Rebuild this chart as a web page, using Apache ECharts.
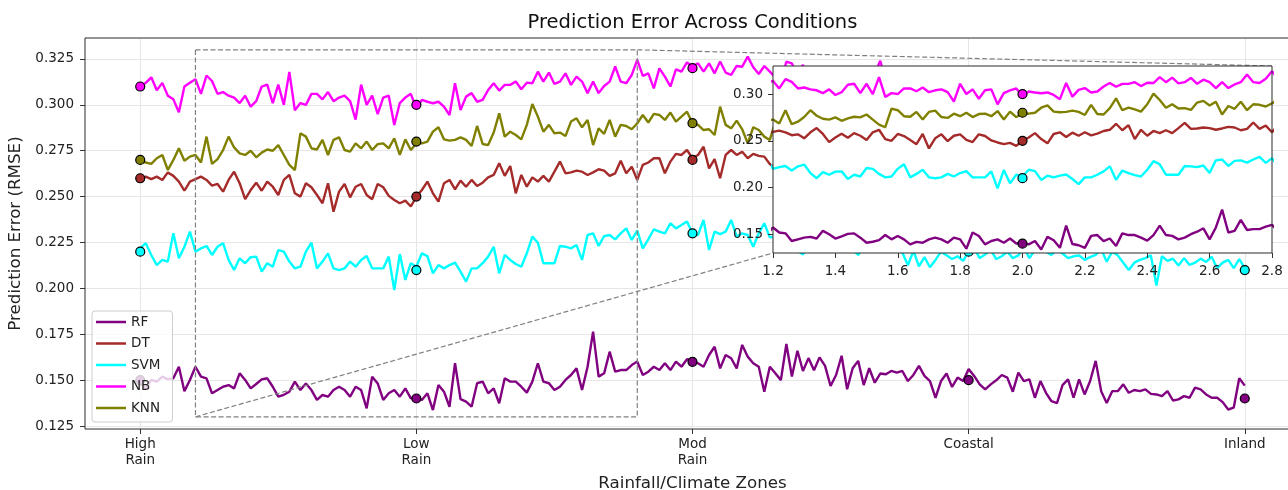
<!DOCTYPE html>
<html><head><meta charset="utf-8">
<script src="https://cdn.jsdelivr.net/npm/echarts@6/dist/echarts.min.js"></script>
<style>html,body{margin:0;padding:0;background:#fff}#c{width:1288px;height:490px}</style>
</head><body><div id="c"></div>
<script>
// ---------- data ----------
const categories = ['High\nRain', 'Low\nRain', 'Mod\nRain', 'Coastal', 'Inland'];
const categoryPositions = [0, 1, 2, 3, 4];
const yTickValues = [0.125, 0.15, 0.175, 0.2, 0.225, 0.25, 0.275, 0.3, 0.325];
const yTickLabels = ['0.125', '0.150', '0.175', '0.200', '0.225', '0.250', '0.275', '0.300', '0.325'];
const insetXTickValues = [0.2, 0.4, 0.6, 0.8, 1.0, 1.2, 1.4, 1.6, 1.8];
const insetXTickLabels = ['1.2', '1.4', '1.6', '1.8', '2.0', '2.2', '2.4', '2.6', '2.8'];
const insetYTickValues = [0.15, 0.2, 0.25, 0.3];
const insetYTickLabels = ['0.15', '0.20', '0.25', '0.30'];
const samplesPerUnit = 50;

const rf = [
0.1480,0.1455,0.1501,0.1492,0.1519,0.1504,0.1510,0.1573,0.1440,0.1501,
0.1573,0.1519,0.1510,0.1428,0.1446,0.1464,0.1473,0.1455,0.1537,0.1501,
0.1455,0.1479,0.1504,0.1510,0.1464,0.1410,0.1420,0.1437,0.1492,0.1446,
0.1482,0.1446,0.1392,0.1419,0.1410,0.1446,0.1464,0.1446,0.1410,0.1464,
0.1446,0.1346,0.1519,0.1482,0.1392,0.1428,0.1446,0.1410,0.1455,0.1401,
0.1410,0.1392,0.1428,0.1337,0.1473,0.1437,0.1355,0.1592,0.1396,0.1383,
0.1355,0.1483,0.1492,0.1428,0.1455,0.1374,0.1510,0.1492,0.1492,0.1464,
0.1432,0.1492,0.1592,0.1492,0.1483,0.1446,0.1464,0.1501,0.1528,0.1564,
0.1446,0.1573,0.1764,0.1519,0.1537,0.1655,0.1546,0.1555,0.1555,0.1582,
0.1601,0.1528,0.1546,0.1573,0.1555,0.1592,0.1555,0.1601,0.1573,0.1614,
0.1605,0.1592,0.1573,0.1637,0.1682,0.1564,0.1637,0.1619,0.1564,0.1692,
0.1628,0.1592,0.1573,0.1437,0.1573,0.1537,0.1500,0.1697,0.1520,0.1660,
0.1550,0.1620,0.1554,0.1624,0.1578,0.1468,0.1528,0.1633,0.1450,0.1565,
0.1605,0.1473,0.1565,0.1486,0.1536,0.1532,0.1550,0.1541,0.1550,0.1495,
0.1528,0.1578,0.1523,0.1495,0.1404,0.1495,0.1536,0.1463,0.1514,0.1495,
0.1560,0.1523,0.1477,0.1450,0.1477,0.1499,0.1528,0.1514,0.1437,0.1541,
0.1495,0.1504,0.1404,0.1495,0.1431,0.1385,0.1375,0.1473,0.1504,0.1404,
0.1504,0.1422,0.1495,0.1605,0.1440,0.1376,0.1440,0.1440,0.1477,0.1431,
0.1446,0.1440,0.1450,0.1425,0.1422,0.1413,0.1440,0.1389,0.1395,0.1413,
0.1404,0.1459,0.1450,0.1422,0.1404,0.1404,0.1380,0.1340,0.1350,0.1510,
0.1470];

const dt = [
0.2591,0.2609,0.2595,0.2609,0.2591,0.2632,0.2613,0.2582,0.2532,0.2582,
0.2595,0.2609,0.2591,0.2560,0.2569,0.2527,0.2591,0.2636,0.2573,0.2486,
0.2536,0.2576,0.2532,0.2582,0.2554,0.2509,0.2591,0.2618,0.2518,0.2500,
0.2573,0.2551,0.2509,0.2464,0.2573,0.2418,0.2527,0.2569,0.2496,0.2554,
0.2569,0.2509,0.2486,0.2569,0.2551,0.2504,0.2482,0.2464,0.2478,0.2446,
0.2500,0.2536,0.2582,0.2518,0.2473,0.2573,0.2591,0.2540,0.2587,0.2554,
0.2591,0.2558,0.2576,0.2605,0.2618,0.2682,0.2613,0.2667,0.2518,0.2618,
0.2554,0.2605,0.2582,0.2613,0.2582,0.2636,0.2691,0.2627,0.2632,0.2642,
0.2636,0.2618,0.2632,0.2649,0.2642,0.2613,0.2627,0.2696,0.2627,0.2663,
0.2591,0.2673,0.2686,0.2709,0.2709,0.2627,0.2691,0.2733,0.2727,0.2754,
0.2709,0.2727,0.2772,0.2654,0.2704,0.2600,0.2727,0.2754,0.2727,0.2745,
0.2709,0.2733,0.2722,0.2718,0.2678,0.2654,0.268,0.272,0.265,0.270,
0.274,0.266,0.271,0.268,0.273,0.264,0.269,0.275,0.267,0.271,
0.265,0.270,0.273,0.266,0.269,0.272,0.264,0.270,0.267,0.274,
0.268,0.265,0.271,0.269,0.273,0.266,0.270,0.263,0.268,0.272,
0.266,0.270,0.267,0.273,0.264,0.269,0.271,0.265,0.268,0.272,
0.267,0.263,0.270,0.268,0.274,0.266,0.269,0.265,0.271,0.267,
0.270,0.264,0.268,0.272,0.266,0.269,0.263,0.271,0.267,0.270,
0.265,0.269,0.273,0.267,0.270,0.264,0.268,0.271,0.266,0.269,
0.272,0.265,0.268,0.270,0.266,0.271,0.267,0.264,0.269,0.272,
0.268];

const svm = [
0.2218,0.2246,0.2182,0.2127,0.2155,0.2146,0.2300,0.2164,0.2227,0.2309,
0.2200,0.2218,0.2231,0.2182,0.2227,0.2246,0.2155,0.2100,0.2164,0.2137,
0.2170,0.2173,0.2091,0.2137,0.2118,0.2209,0.2200,0.2146,0.2109,0.2118,
0.2200,0.2249,0.2109,0.2146,0.2191,0.2109,0.2100,0.2109,0.2146,0.2118,
0.2155,0.2176,0.2109,0.2109,0.2109,0.2173,0.1991,0.2187,0.2046,0.2137,
0.2118,0.2191,0.2176,0.2082,0.2127,0.2109,0.2127,0.2140,0.2091,0.2037,
0.2109,0.2109,0.2137,0.2173,0.2227,0.2082,0.2182,0.2155,0.2133,0.2118,
0.2191,0.2282,0.2249,0.2137,0.2137,0.2137,0.2231,0.2227,0.2218,0.2236,
0.2155,0.2291,0.2300,0.2231,0.2285,0.2291,0.2267,0.2300,0.2327,0.2264,
0.2315,0.2218,0.2267,0.2322,0.2309,0.2300,0.2355,0.2327,0.2345,0.2364,
0.2300,0.2291,0.2373,0.2209,0.2309,0.2296,0.2309,0.2373,0.2282,0.2300,
0.2291,0.2227,0.2300,0.2355,0.2278,0.2282,0.2250,0.2230,0.2260,0.2205,
0.2185,0.2230,0.2215,0.2240,0.2205,0.2250,0.2220,0.2235,0.2200,0.2210,
0.2182,0.2225,0.2205,0.2240,0.2215,0.2230,0.2200,0.2215,0.2195,0.2126,
0.2205,0.2120,0.2170,0.2115,0.2155,0.2200,0.2180,0.2160,0.2175,0.2150,
0.2200,0.2220,0.2165,0.2185,0.2210,0.2160,0.2175,0.2200,0.2165,0.2180,
0.2225,0.2165,0.2210,0.2230,0.2200,0.2182,0.2210,0.2190,0.2165,0.2175,
0.2180,0.2155,0.2170,0.2182,0.2215,0.2145,0.2200,0.2180,0.2140,0.2100,
0.2140,0.2155,0.2165,0.2180,0.2016,0.2175,0.2150,0.2162,0.2125,0.2165,
0.2128,0.2140,0.2162,0.2144,0.2172,0.2110,0.2140,0.2155,0.2110,0.2160,
0.2110];

const nb = [
0.310,0.312,0.315,0.308,0.312,0.305,0.303,0.296,0.310,0.312,
0.314,0.306,0.316,0.313,0.306,0.307,0.305,0.304,0.301,0.305,
0.299,0.302,0.310,0.311,0.301,0.311,0.300,0.318,0.297,0.301,
0.300,0.306,0.306,0.303,0.307,0.302,0.304,0.305,0.302,0.292,
0.311,0.300,0.305,0.295,0.304,0.305,0.289,0.301,0.304,0.306,
0.298,0.3027,0.3017,0.3009,0.3017,0.2990,0.2945,0.3118,0.2972,0.3045,
0.3064,0.3017,0.3027,0.3081,0.3118,0.3078,0.3109,0.3109,0.3127,0.3085,
0.3121,0.3118,0.3181,0.3127,0.3176,0.3114,0.3127,0.3172,0.3109,0.3154,
0.3127,0.3064,0.3127,0.3064,0.3103,0.3127,0.3209,0.3127,0.3118,0.3163,
0.3245,0.3158,0.3172,0.3090,0.3199,0.3154,0.3100,0.3193,0.3181,0.3231,
0.3209,0.3226,0.3181,0.3226,0.3172,0.3236,0.3176,0.3163,0.3212,0.3208,
0.3263,0.3205,0.3168,0.3212,0.3181,0.315,0.312,0.3236,0.3226,0.316,
0.3218,0.314,0.3205,0.315,0.312,0.317,0.309,0.315,0.313,0.318,
0.310,0.316,0.312,0.317,0.324,0.313,0.316,0.311,0.318,0.314,
0.309,0.316,0.313,0.319,0.312,0.315,0.310,0.317,0.314,0.311,
0.315,0.318,0.309,0.313,0.316,0.311,0.317,0.312,0.308,0.315,
0.313,0.318,0.310,0.314,0.311,0.316,0.309,0.313,0.317,0.310,
0.312,0.308,0.315,0.311,0.314,0.309,0.316,0.312,0.307,0.313,
0.310,0.315,0.311,0.308,0.314,0.310,0.306,0.312,0.309,0.314,
0.310,0.307,0.313,0.309,0.311,0.306,0.312,0.308,0.310,0.307,
0.309];

const knn = [
0.2695,0.2686,0.2678,0.2709,0.2727,0.2645,0.2700,0.2763,0.2696,0.2718,
0.2727,0.2686,0.2827,0.2678,0.2704,0.2754,0.2827,0.2768,0.2736,0.2727,
0.2750,0.2714,0.2740,0.2757,0.2750,0.2781,0.2727,0.2673,0.2645,0.2845,
0.2827,0.2763,0.2757,0.2809,0.2727,0.2809,0.2823,0.2754,0.2745,0.2790,
0.2763,0.2800,0.2754,0.2786,0.2790,0.2763,0.2818,0.2727,0.2812,0.2754,
0.2790,0.2790,0.2800,0.2854,0.2878,0.2812,0.2805,0.2809,0.2823,0.2809,
0.2776,0.2885,0.2787,0.2781,0.2849,0.2954,0.2827,0.2854,0.2836,0.2812,
0.2891,0.3005,0.2936,0.2854,0.2891,0.2845,0.2849,0.2830,0.2909,0.2927,
0.2878,0.2918,0.2781,0.2872,0.2842,0.2918,0.2827,0.2891,0.2885,0.2867,
0.2900,0.2945,0.2904,0.2951,0.2945,0.2918,0.2958,0.2909,0.2936,0.2963,
0.2900,0.2891,0.2863,0.2867,0.2836,0.2990,0.2891,0.2872,0.2914,0.2867,
0.2790,0.2878,0.2863,0.2827,0.2809,0.2909,0.287,0.292,0.284,0.289,
0.295,0.283,0.288,0.291,0.285,0.293,0.282,0.289,0.286,0.294,
0.284,0.290,0.287,0.281,0.289,0.292,0.285,0.288,0.283,0.291,
0.286,0.293,0.284,0.287,0.290,0.282,0.288,0.285,0.291,0.286,
0.283,0.288,0.292,0.284,0.287,0.281,0.289,0.286,0.290,0.283,
0.288,0.285,0.291,0.282,0.287,0.289,0.284,0.288,0.280,0.286,
0.290,0.283,0.287,0.285,0.289,0.282,0.286,0.291,0.284,0.288,
0.281,0.287,0.285,0.289,0.283,0.286,0.290,0.282,0.287,0.284,
0.288,0.283,0.286,0.289,0.281,0.287,0.285,0.288,0.283,0.290,
0.286];

const rfMarkers  = [0.15, 0.14, 0.16, 0.15, 0.14];
const dtMarkers  = [0.26, 0.25, 0.27, 0.26, 0.27];
const svmMarkers = [0.22, 0.21, 0.23, 0.22, 0.21];
const nbMarkers  = [0.31, 0.30, 0.32, 0.31, 0.31];
const knnMarkers = [0.27, 0.28, 0.29, 0.28, 0.29];

const seriesNames = ['RF', 'DT', 'SVM', 'NB', 'KNN'];
const seriesColors = ['#800080', '#a52a2a', '#00ffff', '#ff00ff', '#808000'];
const seriesValues = [rf, dt, svm, nb, knn];
const markerValues = [rfMarkers, dtMarkers, svmMarkers, nbMarkers, knnMarkers];

// ---------- chart ----------
const FONT = 'DejaVu Sans';
const TXT = '#222';
const mainX = {min: -0.2, max: 4.2};
const mainY = {min: 0.12337, max: 0.33644};
const zoomBox = {x0: 0.2, x1: 1.8, y0: 0.13, y1: 0.33};
const LW = 2.4;

function labelFor(vals, labels) {
  return function (v) {
    const i = vals.findIndex(t => Math.abs(t - v) < 1e-6);
    return i >= 0 ? labels[i] : '';
  };
}

const series = [];
[0, 1].forEach(g => {
  seriesNames.forEach((name, s) => {
    const lineData = seriesValues[s].map((v, i) => [i / samplesPerUnit, v]);
    const mk = categoryPositions.map((x, j) => [x, markerValues[s][j]]);
    const z = g === 0 ? 2 : 5;
    series.push({
      type: 'line', name, xAxisIndex: g, yAxisIndex: g, data: lineData,
      symbol: 'none', showSymbol: false, z, clip: true,
      lineStyle: {color: seriesColors[s], width: LW}, itemStyle: {color: seriesColors[s]}
    });
    series.push({
      type: 'scatter', name: name + (g === 0 ? ' pts' : ' ipts'), xAxisIndex: g, yAxisIndex: g,
      data: mk, z, clip: true, symbolSize: 9,
      itemStyle: {color: seriesColors[s], borderColor: '#000', borderWidth: 1.2, opacity: 1}
    });
  });
});

const option = {
  animation: false,
  backgroundColor: '#fff',
  textStyle: {fontFamily: FONT},
  grid: [
    {left: 85, top: 38, width: 1215, height: 391, containLabel: false, outerBoundsMode: 'none'},
    {left: 773, top: 66, width: 499, height: 187, containLabel: false, outerBoundsMode: 'none'}
  ],
  xAxis: [
    {
      type: 'value', gridIndex: 0, min: mainX.min, max: mainX.max,
      name: 'Rainfall/Climate Zones', nameLocation: 'middle', nameGap: 46,
      nameTextStyle: {fontSize: 16.7, color: TXT, fontFamily: FONT},
      axisLine: {show: false, onZero: false},
      axisTick: {show: true, customValues: categoryPositions, length: 5, lineStyle: {color: '#333'}},
      axisLabel: {customValues: categoryPositions, formatter: labelFor(categoryPositions, categories),
        fontSize: 13.5, lineHeight: 16, color: TXT, margin: 7, fontFamily: FONT},
      splitLine: {show: true, lineStyle: {color: '#e6e6e6', width: 1}}
    },
    {
      type: 'value', gridIndex: 1, min: zoomBox.x0, max: zoomBox.x1, z: 6,
      axisLine: {show: false, onZero: false},
      axisTick: {show: true, customValues: insetXTickValues, length: 5, lineStyle: {color: '#333'}},
      axisLabel: {customValues: insetXTickValues, formatter: labelFor(insetXTickValues, insetXTickLabels),
        fontSize: 13.5, lineHeight: 16, color: TXT, margin: 10, fontFamily: FONT},
      splitLine: {show: false}
    }
  ],
  yAxis: [
    {
      type: 'value', gridIndex: 0, min: mainY.min, max: mainY.max,
      name: 'Prediction Error (RMSE)', nameLocation: 'middle', nameGap: 56,
      nameTextStyle: {fontSize: 16.7, color: TXT, fontFamily: FONT},
      axisLine: {show: false, onZero: false},
      axisTick: {show: true, customValues: yTickValues, length: 5, lineStyle: {color: '#333'}},
      axisLabel: {customValues: yTickValues, formatter: labelFor(yTickValues, yTickLabels),
        fontSize: 13.5, color: TXT, margin: 11, fontFamily: FONT},
      splitLine: {show: true, lineStyle: {color: '#e6e6e6', width: 1}}
    },
    {
      type: 'value', gridIndex: 1, min: zoomBox.y0, max: zoomBox.y1, z: 6,
      axisLine: {show: false, onZero: false},
      axisTick: {show: true, customValues: insetYTickValues, length: 5, lineStyle: {color: '#333'}},
      axisLabel: {customValues: insetYTickValues, formatter: labelFor(insetYTickValues, insetYTickLabels),
        fontSize: 13.5, color: TXT, margin: 10, fontFamily: FONT},
      splitLine: {show: false}
    }
  ],
  legend: {
    data: seriesNames, orient: 'vertical', left: 92, top: 311, z: 10,
    icon: 'rect', itemWidth: 30, itemHeight: 2.5, itemGap: 7.5, itemTextGap: 12,
    padding: [4, 12, 7, 4],
    backgroundColor: 'rgba(255,255,255,0.8)', borderColor: '#cccccc', borderWidth: 1, borderRadius: 3,
    textStyle: {fontSize: 13.5, color: TXT, fontFamily: FONT, lineHeight: 14}
  },
  series
};

const chart = echarts.init(document.getElementById('c'), null, {renderer: 'canvas'});
chart.setOption(option);

const pMain = (x, y) => chart.convertToPixel({xAxisIndex: 0, yAxisIndex: 0}, [x, y]);
const pIn = (x, y) => chart.convertToPixel({xAxisIndex: 1, yAxisIndex: 1}, [x, y]);

const mTL = pMain(mainX.min, mainY.max), mBR = pMain(mainX.max, mainY.min);
const iTL = pIn(zoomBox.x0, zoomBox.y1), iBR = pIn(zoomBox.x1, zoomBox.y0);
const zTL = pMain(zoomBox.x0, zoomBox.y1), zBR = pMain(zoomBox.x1, zoomBox.y0);
const dashStyle = {stroke: '#808080', lineWidth: 1.2, lineDash: [5, 2.5], fill: null};

chart.setOption({
  graphic: [
    {type: 'rect', z: 4, silent: true,
      shape: {x: iTL[0], y: iTL[1], width: iBR[0] - iTL[0], height: iBR[1] - iTL[1]},
      style: {fill: '#ffffff', stroke: null}},
    {type: 'rect', z: 7, silent: true,
      shape: {x: iTL[0], y: iTL[1], width: iBR[0] - iTL[0], height: iBR[1] - iTL[1]},
      style: {fill: null, stroke: '#2a2a2a', lineWidth: 1}},
    {type: 'rect', z: 7, silent: true,
      shape: {x: mTL[0], y: mTL[1], width: mBR[0] - mTL[0], height: mBR[1] - mTL[1]},
      style: {fill: null, stroke: '#2a2a2a', lineWidth: 1}},
    {type: 'rect', z: 3, silent: true,
      shape: {x: zTL[0], y: zTL[1], width: zBR[0] - zTL[0], height: zBR[1] - zTL[1]},
      style: dashStyle},
    {type: 'line', z: 3, silent: true,
      shape: {x1: zBR[0], y1: zTL[1], x2: iBR[0], y2: iTL[1]}, style: dashStyle},
    {type: 'line', z: 3, silent: true,
      shape: {x1: zTL[0], y1: zBR[1], x2: iTL[0], y2: iBR[1]}, style: dashStyle},
    {type: 'text', z: 10, silent: true,
      style: {text: 'Prediction Error Across Conditions', x: (mTL[0] + mBR[0]) / 2, y: 23,
        fill: '#111', fontSize: 19.5, fontFamily: FONT,
        align: 'center', verticalAlign: 'middle', textAlign: 'center', textVerticalAlign: 'middle'}}
  ]
});
</script>
</body></html>
